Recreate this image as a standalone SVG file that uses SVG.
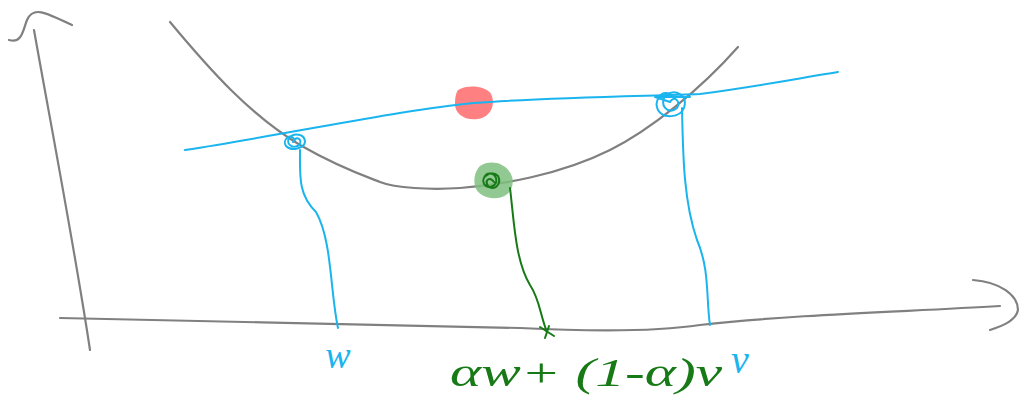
<svg xmlns="http://www.w3.org/2000/svg" width="1022" height="405" viewBox="0 0 1022 405">
<style>
.ax{fill:none;stroke:#808080;stroke-width:2.2;stroke-linecap:round;stroke-linejoin:round}
.bl{fill:none;stroke:#1ab4ef;stroke-width:2;stroke-linecap:round;stroke-linejoin:round}
.gr{fill:none;stroke:#177a17;stroke-width:2;stroke-linecap:round;stroke-linejoin:round}
.lbl{font-family:"Liberation Serif",serif;font-style:italic}
</style>
<rect width="1022" height="405" fill="#ffffff"/>
<g id="axes">
<path class="ax" d="M34,30 C50,120 75,250 90,350"/>
<path class="ax" d="M9,40 C22,44 23,30 27,20 C33,6 45,12 72,25"/>
<path class="ax" d="M60,318 C200,322 400,324 520,328 C600,332 660,331 700,325 C800,314 900,312 1000,306"/>
<path class="ax" d="M973,280 C1000,282 1018,295 1018,310 C1016,320 1005,325 990,330"/>
</g>
<g id="curve">
<path class="ax" d="M170,22 C210,70 250,115 300,145 C340,168 370,178 380,182 C395,188 430,190 460,188 C500,185 560,175 610,150 C650,130 700,90 738,47"/>
</g>
<g id="red-point">
<path d="M458,90 C468,84 486,86 491,94 C496,104 491,117 478,119 C465,121 455,114 455,104 C455,97 456,93 458,90 Z" fill="#ff8080"/>
</g>
<g id="green-point">
<path d="M480,166 C490,159 504,163 509,171 C516,180 513,193 502,197 C490,201 477,195 475,186 C473,178 476,170 480,166 Z" fill="#7fbf7f" fill-opacity="0.85"/>
</g>
<g id="connectors">
<path class="bl" d="M185,150 C300,132 400,110 474,103 C550,97 650,96 700,94 C760,86 800,78 838,72"/>
<path class="bl" d="M300,150 C300,175 298,195 316,212 C332,240 330,290 338,328"/>
<path class="bl" d="M682,108 C683,150 683,200 697,240 C710,270 706,300 710,325"/>
<path class="gr" d="M510,188 C514,220 515,260 530,285 C540,300 540,315 547,332"/>
<path class="gr" d="M540,327 L554,336 M549,326 L545,338"/>
</g>
<g id="scribbles">
<path class="bl" d="M295,140 C290,132 282,140 286,146 C292,152 304,148 305,142 C305,134 294,132 289,138 C285,145 295,150 300,144 C302,138 296,136 293,142"/>
<path class="bl" d="M670,94 C660,90 654,102 658,110 C663,119 680,118 684,108 C688,96 676,88 666,95 C658,104 668,116 677,108 C681,101 674,95 670,102 L655,97 L690,97"/>
<path class="gr" d="M484,178 C486,172 494,172 496,178 C498,186 488,190 484,184 C480,176 492,170 498,176 C502,184 494,192 488,186 C484,180 490,176 494,182"/>
</g>
<g id="labels">
<text class="lbl" x="338" y="368" font-size="38" fill="#1ab4ef" text-anchor="middle">w</text>
<text class="lbl" x="450" y="386" font-size="40" fill="#177a17" textLength="272" lengthAdjust="spacingAndGlyphs">αw+ (1-α)v</text>
<text class="lbl" x="740" y="373" font-size="40" fill="#1ab4ef" text-anchor="middle">v</text>
</g>
</svg>
